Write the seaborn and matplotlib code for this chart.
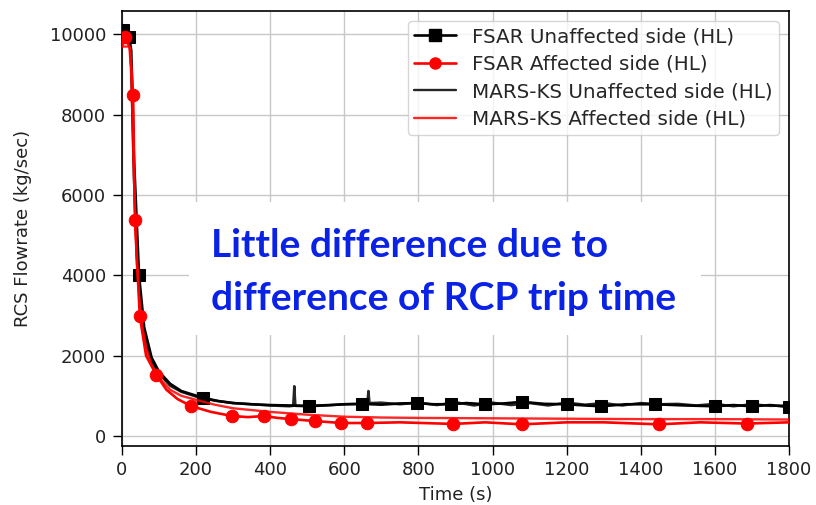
import matplotlib
matplotlib.use("Agg")
import matplotlib.pyplot as plt
from matplotlib.patches import Rectangle
from matplotlib.lines import Line2D
import seaborn as sns

# ---------------- data ----------------
t_fsar_u = [0, 3, 19, 25, 32, 46, 60, 80, 100, 130, 160, 219, 260, 300, 350, 400, 450, 505,
            560, 600, 648, 700, 750, 796, 840, 888, 930, 980, 1030, 1079, 1140, 1201, 1250,
            1293, 1360, 1438, 1520, 1600, 1650, 1700, 1750, 1800]
v_fsar_u = [10100, 10100, 9950, 9600, 7000, 4000, 2700, 1950, 1600, 1300,
            1120, 950, 870, 820, 790, 770, 760, 750, 770, 790,
            800, 780, 810, 820, 790, 790, 820, 790, 810, 850,
            800, 790, 760, 740, 790, 790, 760, 740, 770, 740,
            770, 720]
mk_fsar_u = [1, 2, 5, 11, 17, 20, 23, 25, 27, 29, 31, 33, 35, 37, 39, 41]

t_fsar_a = [0, 8, 22, 30, 35, 48, 65, 93, 120, 150, 186, 240, 297, 340, 383, 420, 456, 520,
            591, 661, 750, 894, 980, 1079, 1200, 1300, 1449, 1560, 1686, 1800]
v_fsar_a = [9700, 9950, 9650, 8500, 5370, 2985, 2000, 1517, 1150, 920,
            746, 600, 497, 470, 497, 450, 420, 373, 323, 323,
            340, 300, 340, 290, 340, 340, 290, 340, 310, 340]
mk_fsar_a = [1, 3, 4, 5, 7, 10, 12, 14, 16, 17, 18, 19, 21, 23, 26, 28]

t_mars_u = [0, 20, 25, 32, 40, 50, 65, 80, 100, 130, 160, 200, 250, 300, 350, 400, 450, 462,
            465, 468, 500, 550, 600, 650, 662, 665, 668, 700, 750, 800, 850, 900, 950, 1000,
            1050, 1100, 1150, 1200, 1250, 1300, 1350, 1400, 1450, 1500, 1550, 1600, 1650,
            1700, 1750, 1800]
v_mars_u = [10000, 9900, 9200, 6500, 4500, 3200, 2300, 1850, 1550, 1250,
            1100, 980, 880, 820, 790, 760, 740, 750, 1240, 750,
            740, 760, 790, 800, 800, 1120, 820, 830, 790, 830,
            770, 840, 760, 830, 770, 820, 760, 830, 780, 820,
            760, 820, 790, 800, 760, 800, 740, 790, 750, 760]

t_mars_a = [0, 20, 25, 32, 40, 50, 65, 80, 100, 130, 160, 200, 250, 300, 400, 500, 600, 700,
            800, 1000, 1200, 1400, 1600, 1800]
v_mars_a = [9700, 9700, 9000, 6500, 4300, 3000, 2200, 1750, 1450, 1150,
            1000, 900, 780, 690, 600, 530, 480, 460, 450, 440,
            430, 420, 420, 410]

labels = ["FSAR Unaffected side (HL)", "FSAR Affected side (HL)",
          "MARS-KS Unaffected side (HL)", "MARS-KS Affected side (HL)"]
x_ticks = [0, 200, 400, 600, 800, 1000, 1200, 1400, 1600, 1800]
y_ticks = [0, 2000, 4000, 6000, 8000, 10000]
annotation = "Little difference due to\ndifference of RCP trip time"

# ---------------- figure ----------------
sns.set_style("ticks")
plt.rcParams['font.family'] = ['DejaVu Sans']

fig = plt.figure(figsize=(8.16, 5.05), dpi=100)
ax = fig.add_axes([0.1495, 0.1168, 0.8174, 0.861])

sns.lineplot(x=t_fsar_u, y=v_fsar_u, ax=ax, color="black", lw=1.9, marker="s",
             markersize=9, markevery=mk_fsar_u, mec="black", mfc="black",
             estimator=None, sort=False, zorder=3)
sns.lineplot(x=t_mars_u, y=v_mars_u, ax=ax, color="black", alpha=0.85, lw=1.8,
             estimator=None, sort=False, zorder=3)
sns.lineplot(x=t_mars_a, y=v_mars_a, ax=ax, color="red", alpha=0.85, lw=1.7,
             estimator=None, sort=False, zorder=4)
sns.lineplot(x=t_fsar_a, y=v_fsar_a, ax=ax, color="red", lw=1.9, marker="o",
             markersize=9, markevery=mk_fsar_a, mec="red", mfc="red",
             estimator=None, sort=False, zorder=5)

ax.set_xlim(0, 1800)
ax.set_ylim(-250, 10580)
ax.set_xticks(x_ticks)
ax.set_yticks(y_ticks)
ax.grid(True, color="#c8c8c8", lw=1.0)
for s in ax.spines.values():
    s.set_color("black")
    s.set_linewidth(1.2)
ax.tick_params(labelsize=13, colors="black", labelcolor="#222222", length=6.5, width=1, pad=4)
ax.tick_params(axis="y", pad=5)
ax.set_xlabel("Time (s)", fontsize=13, color="#222222", labelpad=5)
ax.set_ylabel("RCS Flowrate (kg/sec)", fontsize=13, color="#222222", labelpad=13)

handles = [
    Line2D([], [], color="black", lw=1.9, marker="s", markersize=8),
    Line2D([], [], color="red", lw=1.9, marker="o", markersize=8),
    Line2D([], [], color="black", alpha=0.85, lw=1.7),
    Line2D([], [], color="red", alpha=0.85, lw=1.7),
]
leg = ax.legend(handles, labels, loc="upper right", fontsize=14.3, frameon=True,
                framealpha=0.8, edgecolor="#cccccc", borderaxespad=0.5,
                labelspacing=0.43, handlelength=2.1, handletextpad=0.85, borderpad=0.3)
leg.set_zorder(10)

# white box behind annotation
ax.add_patch(Rectangle((0.1004, 0.255), 0.7676, 0.306, transform=ax.transAxes,
                       facecolor="white", edgecolor="none", zorder=6))
ax.text(0.482, 0.40, annotation, transform=ax.transAxes, ha="center", va="center",
        multialignment="left", fontsize=28, fontweight="bold", family="Lato",
        color="#0a22e6", linespacing=1.6, zorder=7)

fig.savefig("out.png", dpi=100)
